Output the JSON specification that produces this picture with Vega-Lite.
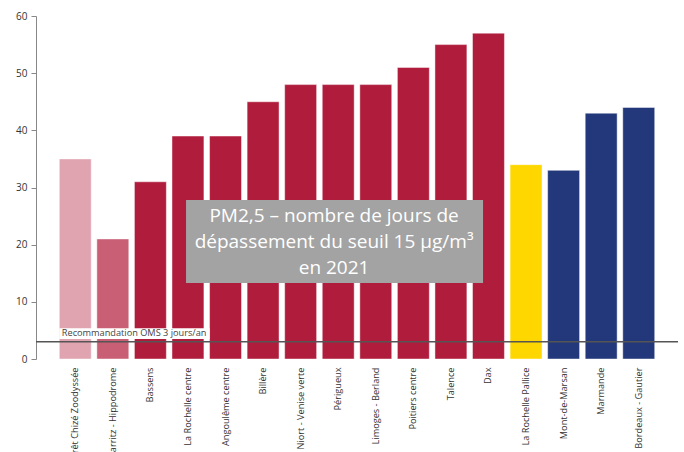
{
  "$schema": "https://vega.github.io/schema/vega-lite/v6.json",
  "width": 642,
  "height": 343,
  "autosize": {"type": "none"},
  "padding": {"left": 36, "top": 16, "right": 6, "bottom": 93},
  "background": "white",
  "config": {
    "view": {"stroke": null},
    "font": "Open Sans"
  },
  "datasets": {
    "stations": [
      {"station": "Forêt Chizé Zoodyssée", "jours": 35, "groupe": "a"},
      {"station": "Biarritz - Hippodrome", "jours": 21, "groupe": "b"},
      {"station": "Bassens", "jours": 31, "groupe": "c"},
      {"station": "La Rochelle centre", "jours": 39, "groupe": "c"},
      {"station": "Angoulême centre", "jours": 39, "groupe": "c"},
      {"station": "Billère", "jours": 45, "groupe": "c"},
      {"station": "Niort - Venise verte", "jours": 48, "groupe": "c"},
      {"station": "Périgueux", "jours": 48, "groupe": "c"},
      {"station": "Limoges - Berland", "jours": 48, "groupe": "c"},
      {"station": "Poitiers centre", "jours": 51, "groupe": "c"},
      {"station": "Talence", "jours": 55, "groupe": "c"},
      {"station": "Dax", "jours": 57, "groupe": "c"},
      {"station": "La Rochelle Pallice", "jours": 34, "groupe": "d"},
      {"station": "Mont-de-Marsan", "jours": 33, "groupe": "e"},
      {"station": "Marmande", "jours": 43, "groupe": "e"},
      {"station": "Bordeaux - Gautier", "jours": 44, "groupe": "e"}
    ],
    "annotation": [{"note": "1"}]
  },
  "layer": [
    {
      "data": {"name": "stations"},
      "mark": {"type": "bar", "stroke": "white", "strokeOpacity": 0.45, "strokeWidth": 1},
      "encoding": {
        "x": {
          "field": "station",
          "type": "nominal",
          "sort": null,
          "scale": {
            "domain": ["Forêt Chizé Zoodyssée", "Biarritz - Hippodrome", "Bassens", "La Rochelle centre", "Angoulême centre", "Billère", "Niort - Venise verte", "Périgueux", "Limoges - Berland", "Poitiers centre", "Talence", "Dax", "La Rochelle Pallice", "Mont-de-Marsan", "Marmande", "Bordeaux - Gautier"],
            "paddingInner": 0.15,
            "paddingOuter": 0.62
          },
          "axis": {
            "title": null,
            "domain": false,
            "ticks": false,
            "labelAngle": -90,
            "labelPadding": 8,
            "labelFontSize": 9.2,
            "labelColor": "#333333",
            "labelLimit": 0
          }
        },
        "y": {
          "field": "jours",
          "type": "quantitative",
          "scale": {"domain": [0, 60]},
          "axis": {
            "title": null,
            "grid": false,
            "values": [0, 10, 20, 30, 40, 50, 60],
            "labelOverlap": false,
            "domainColor": "#888888",
            "tickColor": "#888888",
            "tickSize": 5,
            "labelFontSize": 10,
            "labelColor": "#333333",
            "labelPadding": 4
          }
        },
        "color": {
          "field": "groupe",
          "type": "nominal",
          "scale": {
            "domain": ["a", "b", "c", "d", "e"],
            "range": ["#e0a4b1", "#c95f75", "#b01c3c", "#fed700", "#22387a"]
          },
          "legend": null
        }
      }
    },
    {
      "data": {"name": "annotation"},
      "mark": {"type": "rect", "fill": "white"},
      "encoding": {
        "x": {"datum": "Forêt Chizé Zoodyssée", "bandPosition": 0},
        "x2": {"datum": "Angoulême centre", "bandPosition": 0},
        "y": {"datum": 3.5},
        "y2": {"datum": 5.4}
      }
    },
    {
      "data": {"name": "annotation"},
      "mark": {"type": "text", "text": "Recommandation OMS 3 jours/an", "align": "left", "baseline": "middle", "fontSize": 9.2, "color": "#444444"},
      "encoding": {
        "x": {"datum": "Forêt Chizé Zoodyssée", "bandPosition": 0.08},
        "y": {"datum": 4.5}
      }
    },
    {
      "data": {"name": "annotation"},
      "mark": {"type": "rule", "color": "#555555", "strokeWidth": 1.5},
      "encoding": {
        "y": {"datum": 3}
      }
    },
    {
      "data": {"name": "annotation"},
      "mark": {"type": "rect", "fill": "#a3a3a3"},
      "encoding": {
        "x": {"datum": "La Rochelle centre", "bandPosition": 0.44},
        "x2": {"datum": "Dax", "bandPosition": 0.33},
        "y": {"datum": 13.3},
        "y2": {"datum": 27.8}
      }
    },
    {
      "data": {"name": "annotation"},
      "mark": {"type": "text", "text": ["PM2,5 – nombre de jours de", "dépassement du seuil 15 µg/m³", "en 2021"], "align": "center", "baseline": "middle", "fontSize": 19, "lineHeight": 26, "color": "white"},
      "encoding": {
        "x": {"datum": "Périgueux", "bandPosition": 0.37},
        "y": {"datum": 25.1}
      }
    }
  ]
}
